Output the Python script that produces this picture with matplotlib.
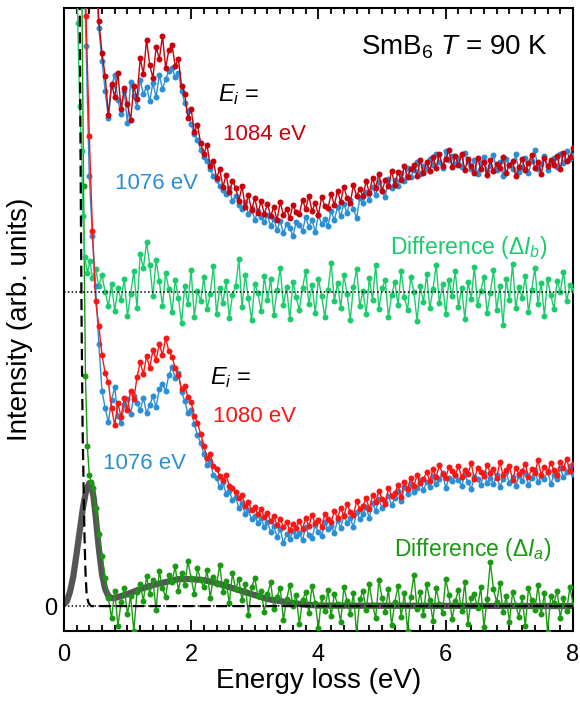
import numpy as np
import matplotlib
matplotlib.use('Agg')
import matplotlib.pyplot as plt
from matplotlib.ticker import MultipleLocator

plt.rcParams['font.family'] = ['Liberation Sans', 'DejaVu Sans']
plt.rcParams['mathtext.fontset'] = 'custom'
plt.rcParams['mathtext.rm'] = 'Liberation Sans'
plt.rcParams['mathtext.it'] = 'Liberation Sans:italic'
plt.rcParams['mathtext.bf'] = 'Liberation Sans:bold'

# ---------------- data (energy loss in eV, intensity in arb. units) ----------------
energy_grid = np.round(np.arange(0.70, 8.001, 0.05), 2)

# upper pair: Ei = 1084 eV vs 1076 eV
upper_tail_x = [0.50, 0.55, 0.60, 0.65]
upper_1084_tail = [650, 585, 553, 530]
upper_1076_tail = [640, 578, 545, 515]
upper_1084 = [
    491, 522, 509, 533, 497, 518, 502, 486, 520, 507,
    548, 532, 566, 541, 528, 559, 547, 570, 538, 556,
    561, 540, 547, 520, 512, 488, 497, 474, 481, 463,
    452, 461, 440, 445, 428, 437, 419, 431, 414, 425,
    418, 405, 420, 399, 411, 396, 408, 393, 405, 392,
    402, 390, 399, 386, 404, 391, 397, 388, 401, 394,
    392, 406, 397, 410, 395, 403, 391, 409, 400, 398,
    412, 401, 415, 404, 419, 408, 403, 421, 410, 417,
    410, 425, 413, 428, 418, 432, 415, 426, 420, 435,
    421, 434, 426, 440, 429, 437, 441, 430, 446, 433,
    444, 435, 449, 438, 452, 440, 447, 456, 439, 450,
    441, 452, 436, 447, 440, 433, 448, 437, 444, 431,
    446, 435, 442, 438, 449, 433, 441, 445, 430, 439,
    447, 436, 443, 451, 438, 444, 432, 448, 440, 446,
    441, 450, 437, 453, 445, 449, 458]
upper_1076 = [
    488, 520, 531, 506, 492, 515, 483, 524, 510, 499,
    526, 512, 519, 505, 523, 509, 531, 517, 527, 535,
    538, 529, 533, 515, 503, 495, 482, 472, 466, 456,
    449, 445, 437, 430, 426, 420, 416, 412, 418, 405,
    410, 401, 397, 404, 392, 398, 386, 395, 389, 384,
    391, 380, 387, 376, 385, 373, 382, 378, 370, 384,
    381, 375, 389, 379, 386, 374, 391, 382, 387, 380,
    395, 386, 399, 390, 402, 393, 406, 397, 388, 408,
    403, 414, 406, 419, 411, 424, 415, 409, 427, 418,
    426, 420, 433, 425, 438, 429, 436, 444, 432, 440,
    437, 447, 441, 452, 444, 438, 455, 446, 450, 442,
    448, 439, 453, 444, 437, 446, 432, 443, 449, 435,
    440, 451, 436, 444, 430, 447, 441, 437, 452, 434,
    439, 448, 433, 445, 456, 437, 442, 450, 436, 444,
    448, 439, 452, 443, 455, 447, 451]

# upper difference (Delta I_b), offset baseline
upper_baseline = 314
diff_b_tail_x = [0.18, 0.22, 0.25, 0.28, 0.30, 0.33, 0.37, 0.41, 0.45, 0.50, 0.55, 0.60, 0.65]
diff_b_tail = [680, 583, 500, 455, 390, 349, 333, 345, 328, 337, 320, 331, 314]
diff_b = [
    300, 322, 295, 318, 306, 327, 290, 312, 335, 298,
    352, 338, 364, 341, 310, 346, 325, 300, 333, 317,
    294, 326, 308, 283, 320, 302, 336, 289, 315, 305,
    329, 297, 312, 340, 292, 318, 303, 325, 288, 311,
    320, 347, 299, 331, 308, 286, 322, 313, 295, 330,
    306, 327, 291, 316, 338, 301, 319, 287, 324, 309,
    296, 318, 335, 302, 321, 293, 327, 310, 289, 316,
    343, 305, 323, 298, 331, 312, 286, 319, 337, 300,
    315, 292, 328, 306, 341, 297, 318, 326, 289, 311,
    324, 301, 335, 309, 296, 329, 314, 285, 320, 304,
    332, 298, 317, 341, 303, 322, 292, 326, 310, 335,
    299, 318, 287, 324, 307, 339, 301, 315, 329, 293,
    313, 336, 296, 320, 281, 327, 306, 342, 298, 319,
    308, 330, 294, 316, 338, 302, 323, 290, 327, 311,
    297, 325, 314, 334, 305, 321, 316]

# lower pair: Ei = 1080 eV vs 1076 eV
lower_tail_x = [0.30, 0.35, 0.40, 0.45, 0.50, 0.55, 0.60, 0.65]
lower_1080_tail = [720, 590, 470, 375, 305, 280, 251, 233]
lower_1076_tail = [700, 560, 430, 370, 320, 262, 215, 198]
lower_1080 = [
    224, 198, 181, 203, 189, 208, 196, 215, 207, 229,
    244, 232, 250, 238, 256, 246, 262, 251, 268, 255,
    249, 238, 231, 217, 220, 209, 204, 190, 183, 172,
    160, 148, 152, 140, 137, 130, 126, 131, 120, 118,
    114, 108, 111, 100, 104, 96, 99, 92, 97, 89,
    93, 85, 90, 81, 87, 79, 84, 76, 82, 78,
    85, 77, 88, 80, 91, 83, 86, 79, 92, 87,
    84, 95, 88, 98, 90, 102, 94, 91, 105, 97,
    100, 108, 97, 111, 104, 115, 107, 102, 118, 110,
    113, 121, 109, 124, 117, 128, 120, 131, 123, 127,
    134, 125, 137, 129, 141, 132, 128, 139, 135, 131,
    140, 129, 136, 132, 143, 127, 138, 134, 130, 141,
    133, 137, 128, 144, 131, 136, 140, 126, 138, 132,
    135, 142, 129, 137, 133, 146, 131, 139, 134, 143,
    136, 131, 144, 138, 147, 135, 142]
lower_1076 = [
    184, 206, 219, 190, 183, 201, 207, 192, 210, 203,
    196, 208, 193, 201, 210, 199, 217, 222, 215, 231,
    239, 228, 233, 214, 205, 193, 196, 182, 171, 163,
    152, 141, 145, 131, 128, 119, 124, 112, 115, 106,
    109, 98, 103, 92, 96, 87, 90, 83, 88, 79,
    84, 74, 80, 69, 77, 63, 72, 67, 75, 70,
    73, 66, 79, 71, 68, 81, 74, 70, 84, 77,
    80, 73, 86, 78, 91, 83, 88, 79, 94, 87,
    92, 99, 88, 103, 95, 107, 98, 104, 110, 101,
    108, 115, 105, 119, 112, 122, 114, 118, 126, 116,
    124, 119, 130, 122, 127, 133, 118, 128, 125, 131,
    126, 120, 132, 124, 117, 129, 127, 121, 133, 123,
    128, 122, 131, 119, 127, 134, 123, 129, 120, 130,
    125, 133, 121, 128, 136, 124, 130, 127, 135, 122,
    131, 127, 138, 129, 134, 140, 132]

# lower difference (Delta I_a)
diff_a_tail_x = [0.28, 0.31, 0.34, 0.37, 0.40, 0.43, 0.46, 0.50, 0.55, 0.60, 0.65]
diff_a_tail = [650, 420, 230, 160, 131, 124, 118, 98, 72, 50, 28]
diff_a = [
    8, -12, 15, -20, 4, 18, -8, 10, -25, 14,
    22, 5, 30, 12, 26, -4, 35, 18, 9, 31,
    24, 40, 15, 33, 21, 45, 28, 12, 38, 26,
    19, 36, 8, 29, 22, 41, 14, 25, 3, 33,
    17, 27, 6, 22, -9, 19, 28, 10, 15, -6,
    12, 24, -3, 9, 18, -14, 7, 21, 0, 11,
    -18, 6, 14, -7, 20, 3, -22, 9, -5, 16,
    -10, 12, 2, -16, 19, 5, -8, 13, -28, 7,
    15, -4, 22, 1, -12, 26, 8, -6, 17, -19,
    4, 20, -11, 13, -25, 9, 31, -3, 14, -9,
    22, 6, -15, 18, 2, -7, 27, 11, -13, 5,
    16, -5, 24, -18, 8, 12, -2, 19, -21, 7,
    44, 17, 4, 23, -6, 10, -16, 14, 1, -11,
    9, -20, 18, 6, -4, 21, -8, 13, -26, 10,
    3, 15, -12, 8, -5, 19, 2]

# fit curve (grey) and elastic line (dashed)
fit_x = [0.00, 0.05, 0.10, 0.15, 0.20, 0.25, 0.30, 0.35, 0.40, 0.43, 0.47, 0.50,
         0.55, 0.60, 0.65, 0.70, 0.75, 0.80, 0.90, 1.00, 1.20, 1.40, 1.60, 1.80,
         2.00, 2.20, 2.40, 2.60, 2.80, 3.00, 3.20, 3.40, 3.60, 3.80, 4.00, 8.00]
fit_y = [2, 5, 15, 30, 52, 75, 98, 115, 123, 122, 108, 90,
         58, 32, 17, 10, 8, 8, 10, 12, 17, 21, 24, 27,
         27, 26, 23, 19, 15, 11, 7, 5, 3, 1.5, 0.5, 0]
elastic_x = [0.23, 0.25, 0.265, 0.28, 0.295, 0.31, 0.325, 0.34, 0.36, 0.39, 0.43, 0.50, 8.00]
elastic_y = [900, 600, 430, 280, 180, 123, 70, 35, 10, 3, 0, 0, 0]

# ---------------- style ----------------
c_blue = '#2a8fd4'
c_dred = '#c8000a'
c_red = '#ff1414'
c_lgreen = '#1ccc6c'
c_dgreen = '#1a9a12'
c_grey = '#555555'

fig = plt.figure(figsize=(5.8, 7.02), dpi=100)
ax = fig.add_axes([0.110, 0.101, 0.878, 0.8876])

mk = dict(marker='o', markersize=4.3, linewidth=1.0, markeredgewidth=0)

def series(tx, ty, grid_vals):
    return np.concatenate([tx, energy_grid]), np.concatenate([ty, grid_vals])

# lower difference + fit
ax.plot(fit_x, fit_y, color=c_grey, linewidth=4.5, solid_capstyle='round', zorder=2)
x, y = series(diff_a_tail_x, diff_a_tail, diff_a)
ax.plot(x, y, color=c_dgreen, zorder=3, **mk)

# upper difference
x, y = series(diff_b_tail_x, diff_b_tail, diff_b)
ax.plot(x, y, color=c_lgreen, zorder=3, **mk)

# lower spectra
x, y = series(lower_tail_x, lower_1076_tail, lower_1076)
ax.plot(x, y, color=c_blue, zorder=3, **mk)
x, y = series(lower_tail_x, lower_1080_tail, lower_1080)
ax.plot(x, y, color=c_red, zorder=3.1, **mk)

# upper spectra
x, y = series(upper_tail_x, upper_1076_tail, upper_1076)
ax.plot(x, y, color=c_blue, zorder=3, **mk)
x, y = series(upper_tail_x, upper_1084_tail, upper_1084)
ax.plot(x, y, color=c_dred, zorder=3.1, **mk)

# elastic line
ax.plot(elastic_x, elastic_y, color='black', linewidth=1.6, linestyle=(0, (5, 2.5)), zorder=4)

# baselines
ax.axhline(0, color='black', linestyle=(0, (1, 1.5)), linewidth=1.1, zorder=5)
ax.axhline(upper_baseline, color='black', linestyle=(0, (1, 1.5)), linewidth=1.1, zorder=5)

ax.set_xlim(0, 8)
ax.set_ylim(-25, 598)

# ticks
ax.xaxis.set_major_locator(MultipleLocator(2))
ax.xaxis.set_minor_locator(MultipleLocator(0.2))
ax.tick_params(axis='x', which='both', direction='in', top=True, bottom=True,
               width=1.3, labelsize=17, pad=9)
ax.tick_params(axis='x', which='major', length=8)
ax.tick_params(axis='x', which='minor', length=4.5)
ax.set_yticks([0])
ax.set_yticklabels(['0'])
ax.tick_params(axis='y', which='both', length=0, labelsize=17, pad=5)
for s in ax.spines.values():
    s.set_linewidth(1.5)

ax.set_xlabel('Energy loss (eV)', fontsize=20, labelpad=2)
ax.set_ylabel('Intensity (arb. units)', fontsize=20, labelpad=8)

# annotations
ax.text(7.61, 559, r'SmB$_6$ $T$ = 90 K', fontsize=20, ha='right', va='center')
ax.text(2.42, 511, r'$E_i$ =', fontsize=17, ha='left', va='center')
ax.text(2.50, 472, '1084 eV', fontsize=16, color=c_dred, ha='left', va='center')
ax.text(0.80, 423, '1076 eV', fontsize=16, color=c_blue, ha='left', va='center')
ax.text(7.60, 359, r'Difference ($\Delta I_b$)', fontsize=16.5, color=c_lgreen, ha='right', va='center')
ax.text(2.30, 229, r'$E_i$ =', fontsize=17, ha='left', va='center')
ax.text(2.34, 190, '1080 eV', fontsize=16, color=c_red, ha='left', va='center')
ax.text(0.62, 143, '1076 eV', fontsize=16, color=c_blue, ha='left', va='center')
ax.text(7.67, 57, r'Difference ($\Delta I_a$)', fontsize=16.5, color=c_dgreen, ha='right', va='center')

fig.savefig('out.png', dpi=100)
